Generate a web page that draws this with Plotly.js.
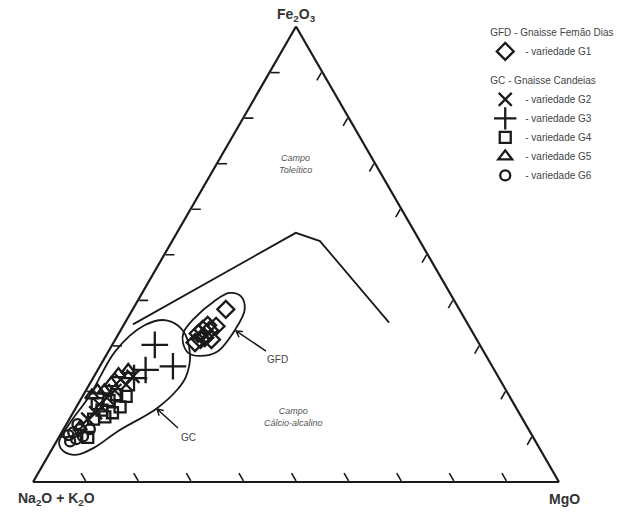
<!DOCTYPE html>
<html>
<head>
<meta charset="utf-8">
<script src="https://cdn.plot.ly/plotly-3.0.1.min.js"></script>
<style>html,body{margin:0;padding:0;background:#fff;}#chart{width:641px;height:512px;}</style>
</head>
<body>
<div id="chart"></div>
<script>
// Values in percent: F = Fe2O3, A = Na2O + K2O, M = MgO
var g1F = [37.9, 34.2, 33.3, 33.5, 32.6, 30.6, 31.3, 31.7, 34.4, 31.3];
var g1A = [44.4, 48.1, 49.8, 51.0, 52.3, 53.9, 50.5, 51.5, 49.6, 52.5];
var g1M = [17.7, 17.7, 16.9, 15.5, 15.1, 15.5, 18.3, 16.8, 16.0, 16.2];

var g2F = [21.4, 20.1, 18.5, 22.5, 17.0, 15.2, 23.2, 13.8];
var g2A = [71.6, 74.4, 76.7, 72.1, 78.9, 80.5, 69.4, 82.7];
var g2M = [7.0, 5.5, 4.8, 5.4, 4.1, 4.3, 7.4, 3.5];

var g3F = [30.1, 24.6, 25.4, 22.8];
var g3A = [61.8, 66.3, 60.7, 69.4];
var g3M = [8.1, 9.1, 13.9, 7.8];

var g4F = [16.5, 17.9, 15.8, 15.2, 13.8, 17.2, 9.8, 18.8, 19.2, 14.3];
var g4A = [75.2, 76.6, 79.0, 77.3, 81.6, 79.2, 84.7, 72.9, 74.5, 79.2];
var g4M = [8.3, 5.5, 5.2, 7.5, 4.6, 3.6, 5.5, 8.3, 6.3, 6.5];

var g5F = [23.7, 21.7, 19.0, 20.1, 12.1, 20.1, 24.6];
var g5A = [71.9, 74.3, 79.3, 76.4, 85.0, 77.7, 69.6];
var g5M = [4.4, 4.0, 1.7, 3.5, 2.9, 2.2, 5.8];

var g6F = [10.9, 11.6, 8.9, 10.0, 12.7, 11.6, 10.3, 9.4];
var g6A = [86.9, 85.3, 88.5, 85.5, 85.2, 83.4, 88.1, 87.1];
var g6M = [2.2, 3.1, 2.6, 4.5, 2.1, 5.0, 1.6, 3.5];

// Tholeiitic / calc-alkaline boundary
var lineF = [34.6, 54.7, 52.9, 35.0];
var lineA = [63.7, 22.7, 19.0, 14.8];
var lineM = [1.7, 22.6, 28.1, 50.2];

// Hand-drawn group outlines
var gcF = [8.7, 12.7, 19.0, 28.8, 34.4, 35.5, 33.3, 27.9, 23.2, 20.3, 16.1, 11.2, 7.6, 6.0, 6.7, 8.7];
var gcA = [90.7, 86.8, 79.7, 69.9, 61.6, 56.9, 54.9, 56.2, 59.3, 62.4, 68.5, 78.2, 84.5, 88.6, 90.8, 90.7];
var gcM = [0.6, 0.5, 1.3, 1.3, 4.0, 7.6, 11.8, 15.9, 17.5, 17.3, 15.4, 10.6, 7.9, 5.4, 2.5, 0.6];

var gfdF = [30.6, 28.3, 27.7, 28.6, 33.5, 37.9, 40.8, 41.5, 39.7, 35.7, 32.8, 30.6];
var gfdA = [56.2, 56.3, 54.4, 50.7, 44.8, 40.8, 40.1, 41.9, 45.7, 51.7, 55.0, 56.2];
var gfdM = [13.2, 15.4, 17.9, 20.7, 21.7, 21.3, 19.1, 16.6, 14.6, 12.6, 12.2, 13.2];

var tickValues = [10, 20, 30, 40, 50, 60, 70, 80, 90];

var FONT = 'Liberation Sans, Arial, sans-serif';
var INK = '#1a1a1a';

function pts(name, F, A, M, symbol, size, group, gtitle) {
  var t = {
    type: 'scatterternary', mode: 'markers', name: name,
    a: F, b: A, c: M,
    legendgroup: group,
    marker: {symbol: symbol, size: size, color: INK, line: {color: INK, width: 2.3}},
    cliponaxis: false
  };
  if (gtitle) t.legendgrouptitle = {text: gtitle, font: {family: FONT, size: 10, color: '#444'}};
  return t;
}
function outline(F, A, M, shape) {
  return {
    type: 'scatterternary', mode: 'lines', a: F, b: A, c: M, showlegend: false,
    hoverinfo: 'skip', line: {color: INK, width: 1.8, shape: shape, smoothing: 1}
  };
}

var data = [
  outline(lineF, lineA, lineM, 'linear'),
  outline(gcF, gcA, gcM, 'spline'),
  outline(gfdF, gfdA, gfdM, 'spline'),
  pts('- variedade G1', g1F, g1A, g1M, 'diamond-open', 13, 'GFD', 'GFD - Gnaisse Femão Dias'),
  pts('- variedade G2', g2F, g2A, g2M, 'x-thin-open', 13, 'GC', 'GC - Gnaisse Candeias'),
  pts('- variedade G3', g3F, g3A, g3M, 'cross-thin-open', 19, 'GC'),
  pts('- variedade G4', g4F, g4A, g4M, 'square-open', 11, 'GC'),
  pts('- variedade G5', g5F, g5A, g5M, 'triangle-up-open', 12, 'GC'),
  pts('- variedade G6', g6F, g6A, g6M, 'circle-open', 10, 'GC')
];

function ax() {
  return {
    title: {text: ''}, showgrid: false, showticklabels: false,
    ticks: 'inside', ticklen: 9, tickwidth: 1.6, tickcolor: INK,
    tickmode: 'array', tickvals: tickValues,
    linecolor: INK, linewidth: 2.2, min: 0
  };
}

var W = 641, H = 512;
function ann(text, x, y, size, color, italic) {
  return {
    text: text, xref: 'paper', yref: 'paper', x: x / W, y: 1 - y / H,
    xanchor: 'center', yanchor: 'middle', showarrow: false,
    font: {family: FONT, size: size, color: color, style: italic ? 'italic' : 'normal'}
  };
}
// leader line with small arrowhead, drawn as a paper-referenced path
function leader(x1, y1, x2, y2) {
  var dx = x2 - x1, dy = y2 - y1, L = Math.sqrt(dx * dx + dy * dy);
  var ux = dx / L, uy = dy / L, px = -uy, py = ux;
  var hx1 = x2 - 6 * ux + 3.5 * px, hy1 = y2 - 6 * uy + 3.5 * py;
  var hx2 = x2 - 6 * ux - 3.5 * px, hy2 = y2 - 6 * uy - 3.5 * py;
  function P(x, y) { return (x / W).toFixed(5) + ',' + (1 - y / H).toFixed(5); }
  return {
    type: 'path', xref: 'paper', yref: 'paper',
    path: 'M' + P(x1, y1) + 'L' + P(x2, y2) + 'M' + P(hx1, hy1) + 'L' + P(x2, y2) + 'L' + P(hx2, hy2),
    line: {color: INK, width: 1.5}
  };
}

var layout = {
  width: W, height: H,
  margin: {l: 0, r: 0, t: 0, b: 0},
  paper_bgcolor: '#fff',
  font: {family: FONT, color: '#333'},
  ternary: {
    sum: 100, bgcolor: '#fff',
    domain: {x: [0, 0.9236], y: [0.0586, 0.9482]},
    aaxis: ax(), baxis: ax(), caxis: ax()
  },
  showlegend: true,
  legend: {
    x: 0.757, y: 0.965, xanchor: 'left', yanchor: 'top',
    font: {family: FONT, size: 10, color: '#444'},
    bgcolor: 'rgba(0,0,0,0)', tracegroupgap: 10, itemwidth: 30
  },
  shapes: [
    leader(266, 351, 236, 331),
    leader(178, 428, 157, 409)
  ],
  annotations: [
    ann('<b>Fe<sub>2</sub>O<sub>3</sub></b>', 296, 15, 14, '#333'),
    ann('<b>Na<sub>2</sub>O + K<sub>2</sub>O</b>', 56, 499, 14, '#333'),
    ann('<b>MgO</b>', 564, 499, 14, '#333'),
    ann('Campo<br>Toleítico', 295, 164, 9, '#555', true),
    ann('Campo<br>Cálcio-alcalino', 293, 417, 9, '#555', true),
    ann('GFD', 277, 359, 10, '#444'),
    ann('GC', 188, 437, 10, '#444')
  ]
};

Plotly.newPlot('chart', data, layout, {displayModeBar: false, staticPlot: true});
</script>
</body>
</html>
